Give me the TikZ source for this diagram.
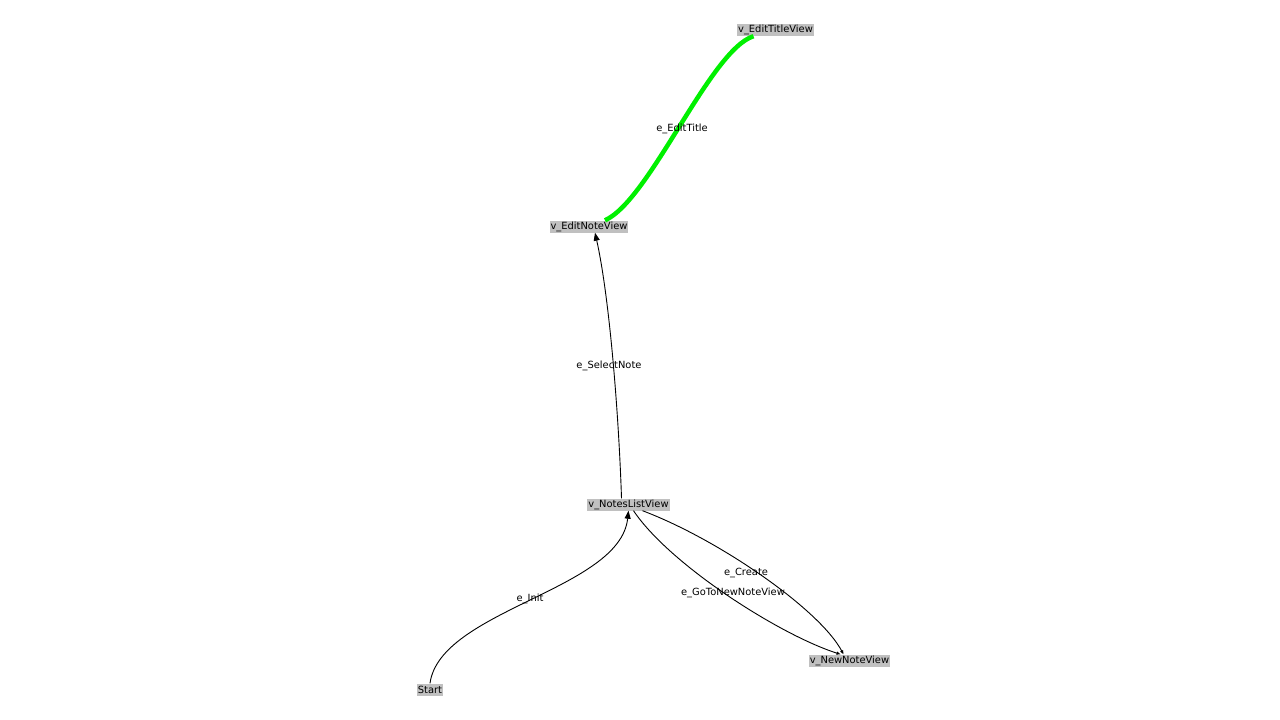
\documentclass[tikz,border=0pt]{standalone}
\usepackage{fontspec}
\setmainfont{DejaVu Sans}
\usetikzlibrary{arrows.meta}
\definecolor{boxgray}{RGB}{192,192,192}
\definecolor{hlgreen}{RGB}{0,240,0}
\tikzset{
  vert/.style={fill=boxgray, inner sep=1pt, minimum height=12pt, font=\fontsize{9.9}{11}\selectfont},
  elabel/.style={inner sep=0pt, font=\fontsize{9.9}{11}\selectfont},
  edge/.style={draw=black, line width=0.9pt},
  arr/.style={-{Triangle[length=8pt,width=6pt]}},
  smallarr/.style={-{Triangle[length=4pt,width=3pt]}},
  hl/.style={draw=hlgreen, line width=4.5pt}
}
\begin{document}
\begin{tikzpicture}[x=1pt,y=-1pt]
\useasboundingbox (0,0) rectangle (1280,720);
% nodes
\node[vert] (et) at (775.5,30) {v\_EditTitleView};
\node[vert] (en) at (589,226.5) {v\_EditNoteView};
\node[vert] (nl) at (628.5,504.5) {v\_NotesListView};
\node[vert] (nn) at (849.5,660.5) {v\_NewNoteView};
\node[vert] (st) at (430,689.5) {Start};
% edges
\draw[hl] ([xshift=16pt]en.north) .. controls (650,200) and (710,50) .. ([xshift=-22pt]et.south);
\draw[edge,arr] ([xshift=-7pt]nl.north) .. controls (619,420) and (610,300) .. ([xshift=6pt]en.south);
\draw[edge,arr] (st.north) .. controls (440,610) and (620,590) .. (nl.south);
\draw[edge,smallarr] ([xshift=14pt]nl.south) .. controls (720,540) and (820,610) .. ([xshift=-6pt]nn.north);
\draw[edge,smallarr] ([xshift=5pt]nl.south) .. controls (670,565) and (780,635) .. ([xshift=-9pt]nn.north);
% edge labels
\node[elabel] (l1) at (682,128.5) {e\_EditTitle};
\node[elabel] (l2) at (609,365.5) {e\_SelectNote};
\node[elabel] (l3) at (530,598.5) {e\_Init};
\node[elabel] (l4) at (746,572.5) {e\_Create};
\node[elabel] (l5) at (733,592.5) {e\_GoToNewNoteView};
\end{tikzpicture}
\end{document}
